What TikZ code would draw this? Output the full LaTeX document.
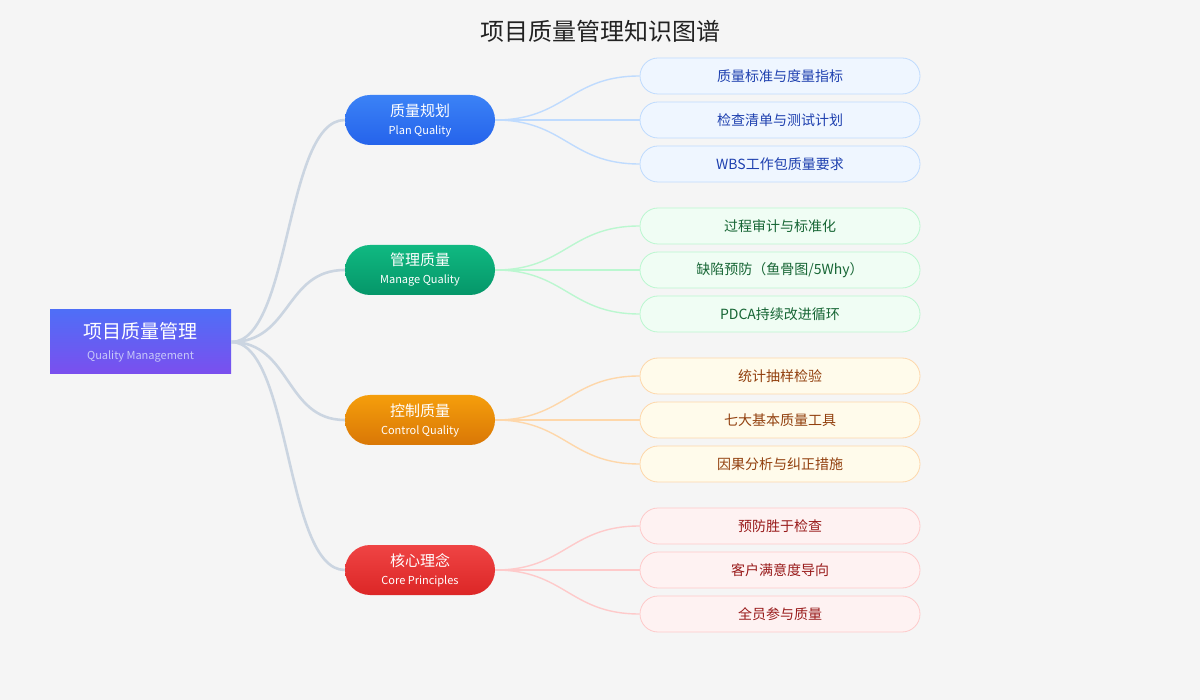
\documentclass[tikz,border=0pt]{standalone}
\usepackage{fontspec}
\newfontfamily\cjk{Noto Sans CJK SC}
\definecolor{bgGray}{HTML}{F5F5F5}
\definecolor{rootTop}{HTML}{4F6EF7}
\definecolor{rootBot}{HTML}{7B4FEE}
\definecolor{rootSub}{HTML}{C7C9F9}
\definecolor{trunkLine}{HTML}{CBD5E1}
\definecolor{planTop}{HTML}{3B82F6}
\definecolor{planBot}{HTML}{2563EB}
\definecolor{planFill}{HTML}{EFF6FF}
\definecolor{planLine}{HTML}{BFDBFE}
\definecolor{planText}{HTML}{1E40AF}
\definecolor{manTop}{HTML}{10B981}
\definecolor{manBot}{HTML}{059669}
\definecolor{manFill}{HTML}{F0FDF4}
\definecolor{manLine}{HTML}{BBF7D0}
\definecolor{manText}{HTML}{166534}
\definecolor{ctlTop}{HTML}{F59E0B}
\definecolor{ctlBot}{HTML}{D97706}
\definecolor{ctlFill}{HTML}{FFFBEB}
\definecolor{ctlLine}{HTML}{FED7AA}
\definecolor{ctlText}{HTML}{92400E}
\definecolor{coreTop}{HTML}{EF4444}
\definecolor{coreBot}{HTML}{DC2626}
\definecolor{coreFill}{HTML}{FEF2F2}
\definecolor{coreLine}{HTML}{FECACA}
\definecolor{coreText}{HTML}{991B1B}
\begin{document}
\begin{tikzpicture}[x=1pt,y=-1pt,
  rootbox/.style={rectangle, minimum width=181pt, minimum height=64pt, inner sep=0pt, top color=rootTop, bottom color=rootBot, draw=none, text=white, align=center, font=\cjk},
  branchbox/.style={rectangle, rounded corners=25pt, minimum width=150pt, minimum height=50pt, inner sep=0pt, draw=none, text=white, align=center, font=\cjk},
  leafbox/.style={rectangle, rounded corners=18pt, minimum width=280pt, minimum height=36pt, inner sep=0pt, line width=0.8pt, align=center, font=\cjk\fontsize{14}{16}\selectfont},
  trunk/.style={draw=trunkLine, line width=2.6pt},
  twig/.style={line width=1.4pt}]
\useasboundingbox (0,0) rectangle (1200,700);
\fill[bgGray] (0,0) rectangle (1200,700);

% Title
\node (title) at (600,31) [font=\cjk\fontsize{24}{27}\selectfont, text={rgb,255:red,34;green,34;blue,34}] {项目质量管理知识图谱};

% Root
\node (root) at (140.5,342) [rootbox] {\fontsize{19}{22}\selectfont 项目质量管理\\[9pt]{\fontsize{11}{13}\selectfont\color{rootSub} Quality Management}};

% Branch nodes
\node (plan) at (420,120) [branchbox, top color=planTop, bottom color=planBot] {\fontsize{15}{18}\selectfont 质量规划\\[6pt]{\fontsize{11}{13}\selectfont Plan Quality}};
\node (manage) at (420,270) [branchbox, top color=manTop, bottom color=manBot] {\fontsize{15}{18}\selectfont 管理质量\\[6pt]{\fontsize{11}{13}\selectfont Manage Quality}};
\node (control) at (420,420) [branchbox, top color=ctlTop, bottom color=ctlBot] {\fontsize{15}{18}\selectfont 控制质量\\[6pt]{\fontsize{11}{13}\selectfont Control Quality}};
\node (core) at (420,570) [branchbox, top color=coreTop, bottom color=coreBot] {\fontsize{15}{18}\selectfont 核心理念\\[6pt]{\fontsize{11}{13}\selectfont Core Principles}};

% Leaf nodes: plan
\node (planA) at (780,76) [leafbox, draw=planLine, fill=planFill, text=planText] {质量标准与度量指标};
\node (planB) at (780,120) [leafbox, draw=planLine, fill=planFill, text=planText] {检查清单与测试计划};
\node (planC) at (780,164) [leafbox, draw=planLine, fill=planFill, text=planText] {WBS工作包质量要求};
% Leaf nodes: manage
\node (manA) at (780,226) [leafbox, draw=manLine, fill=manFill, text=manText] {过程审计与标准化};
\node (manB) at (780,270) [leafbox, draw=manLine, fill=manFill, text=manText] {缺陷预防（鱼骨图/5Why）};
\node (manC) at (780,314) [leafbox, draw=manLine, fill=manFill, text=manText] {PDCA持续改进循环};
% Leaf nodes: control
\node (ctlA) at (780,376) [leafbox, draw=ctlLine, fill=ctlFill, text=ctlText] {统计抽样检验};
\node (ctlB) at (780,420) [leafbox, draw=ctlLine, fill=ctlFill, text=ctlText] {七大基本质量工具};
\node (ctlC) at (780,464) [leafbox, draw=ctlLine, fill=ctlFill, text=ctlText] {因果分析与纠正措施};
% Leaf nodes: core
\node (coreA) at (780,526) [leafbox, draw=coreLine, fill=coreFill, text=coreText] {预防胜于检查};
\node (coreB) at (780,570) [leafbox, draw=coreLine, fill=coreFill, text=coreText] {客户满意度导向};
\node (coreC) at (780,614) [leafbox, draw=coreLine, fill=coreFill, text=coreText] {全员参与质量};

% Root to branches
\draw[trunk] (root.east) .. controls +(60,0) and +(-60,0) .. (plan.west);
\draw[trunk] (root.east) .. controls +(60,0) and +(-60,0) .. (manage.west);
\draw[trunk] (root.east) .. controls +(60,0) and +(-60,0) .. (control.west);
\draw[trunk] (root.east) .. controls +(60,0) and +(-60,0) .. (core.west);

% Branches to leaves
\draw[twig, draw=planLine] (plan.east) .. controls +(70,0) and +(-70,0) .. (planA.west);
\draw[twig, draw=planLine] (plan.east) -- (planB.west);
\draw[twig, draw=planLine] (plan.east) .. controls +(70,0) and +(-70,0) .. (planC.west);
\draw[twig, draw=manLine] (manage.east) .. controls +(70,0) and +(-70,0) .. (manA.west);
\draw[twig, draw=manLine] (manage.east) -- (manB.west);
\draw[twig, draw=manLine] (manage.east) .. controls +(70,0) and +(-70,0) .. (manC.west);
\draw[twig, draw=ctlLine] (control.east) .. controls +(70,0) and +(-70,0) .. (ctlA.west);
\draw[twig, draw=ctlLine] (control.east) -- (ctlB.west);
\draw[twig, draw=ctlLine] (control.east) .. controls +(70,0) and +(-70,0) .. (ctlC.west);
\draw[twig, draw=coreLine] (core.east) .. controls +(70,0) and +(-70,0) .. (coreA.west);
\draw[twig, draw=coreLine] (core.east) -- (coreB.west);
\draw[twig, draw=coreLine] (core.east) .. controls +(70,0) and +(-70,0) .. (coreC.west);

\end{tikzpicture}
\end{document}
